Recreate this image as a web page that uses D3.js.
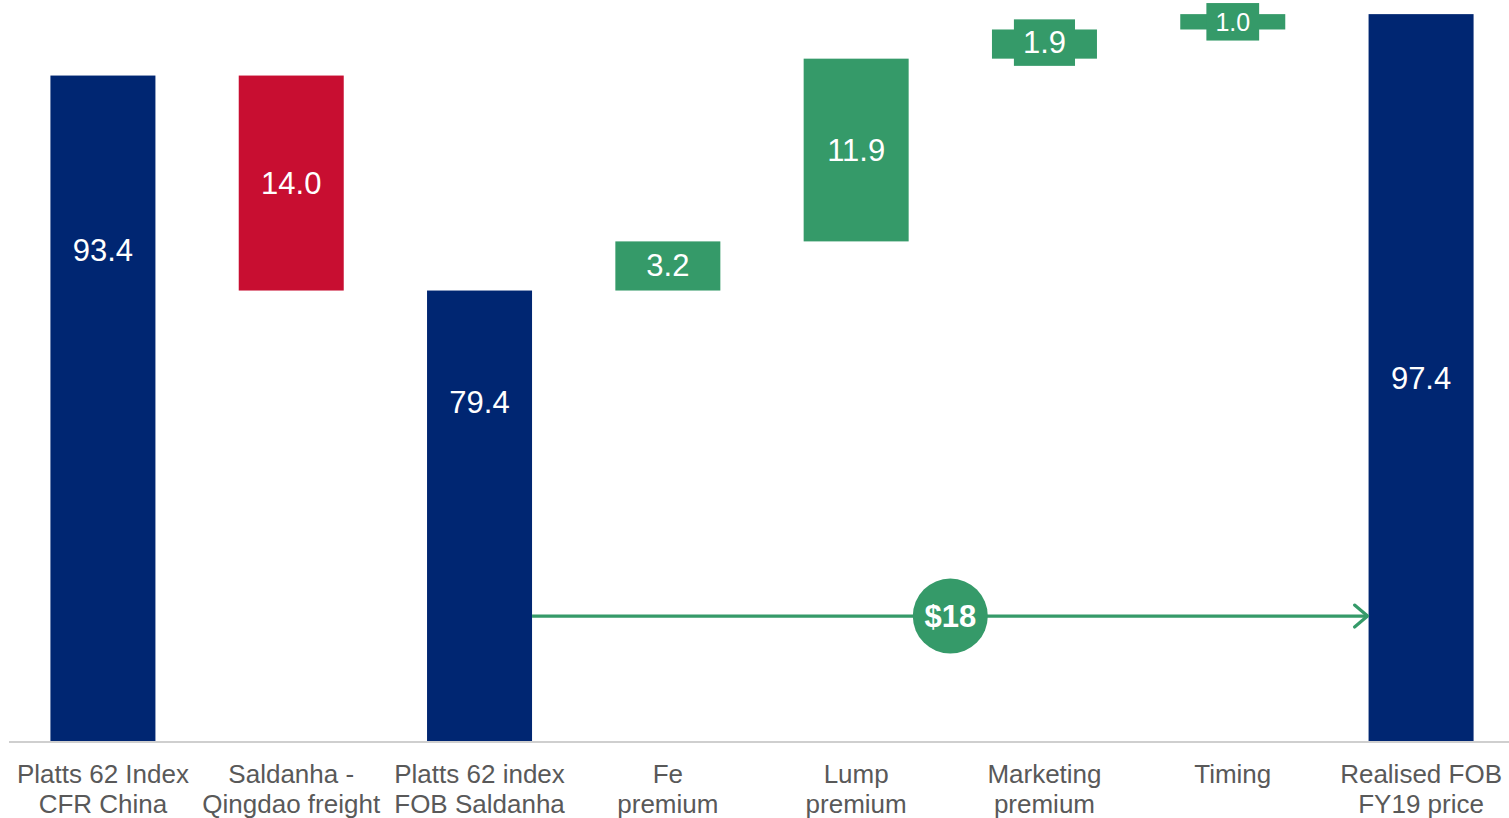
<!DOCTYPE html>
<html>
<head>
<meta charset="utf-8">
<script src="https://cdn.jsdelivr.net/npm/d3@7"></script>
<style>
  html, body { margin: 0; padding: 0; background: #ffffff; }
  svg { display: block; }
  text { font-family: Arial, "Liberation Sans", sans-serif; }
</style>
</head>
<body>
<svg id="chart" width="1509" height="818"></svg>
<script>
// Waterfall: CFR China index to realised FOB price (US$/t)
const categories = [
  ["Platts 62 Index", "CFR China"],
  ["Saldanha -", "Qingdao freight"],
  ["Platts 62 index", "FOB Saldanha"],
  ["Fe", "premium"],
  ["Lump", "premium"],
  ["Marketing", "premium"],
  ["Timing", ""],
  ["Realised FOB", "FY19 price"]
];
// kind: total bars stand on the axis, steps float on the running total
const kinds  = ["total", "down", "total", "up", "up", "up", "up", "total"];
const values = [93.4, 14.0, 79.4, 3.2, 11.9, 1.9, 1.0, 97.4];
// where the value label sits along each bar (0 = top, 1 = bottom)
const labelAlong = [0.263, 0.5, 0.248, 0.5, 0.5, 0.45, 0.5, 0.5];
const uplift = { from: 2, to: 7, label: "$18", level: 58.2 };

const colors = { total: "#002672", down: "#c80e31", up: "#359a69" };

const svg = d3.select("#chart");
const baseY = 742;

const x = d3.scaleBand()
  .domain(d3.range(categories.length))
  .range([9, 1515])
  .paddingInner(0.4424)
  .paddingOuter(0.22);

const y = d3.scaleLinear().domain([50, 98.32]).range([baseY, 0]);

// running totals -> [low, high] for each bar
let running = 0;
const bars = values.map((v, i) => {
  let lo, hi;
  if (kinds[i] === "total") { lo = y.domain()[0]; hi = v; running = v; }
  else if (kinds[i] === "down") { hi = running; lo = running - v; running = lo; }
  else { lo = running; hi = running + v; running = hi; }
  return { i, v, lo, hi, kind: kinds[i] };
});

svg.append("g").selectAll("rect")
  .data(bars).join("rect")
  .attr("x", d => x(d.i))
  .attr("width", x.bandwidth())
  .attr("y", d => y(d.hi))
  .attr("height", d => y(d.lo) - y(d.hi))
  .attr("fill", d => colors[d.kind]);

// value labels; labels too tall for their bar get a backing tab
const labels = svg.append("g");
bars.forEach(d => {
  const top = y(d.hi), bottom = y(d.lo);
  const cy = top + (bottom - top) * labelAlong[d.i];
  const cx = x(d.i) + x.bandwidth() / 2;
  const small = (bottom - top) < 40;
  const fs = d.v < 1.5 ? 25 : 31;
  const g = labels.append("g");
  const t = g.append("text")
    .attr("x", cx).attr("y", cy)
    .attr("text-anchor", "middle")
    .attr("dominant-baseline", "central")
    .attr("font-size", fs)
    .attr("fill", "#ffffff")
    .text(d.v.toFixed(1));
  if (small) {
    const w = t.node().getComputedTextLength() + 18;
    const h = fs * 1.5;
    g.insert("rect", "text")
      .attr("x", cx - w / 2).attr("y", cy - h / 2)
      .attr("width", w).attr("height", h)
      .attr("fill", colors[d.kind]);
  }
});

// axis baseline
svg.append("line")
  .attr("x1", 9).attr("x2", 1509)
  .attr("y1", baseY).attr("y2", baseY)
  .attr("stroke", "#cfcfcf").attr("stroke-width", 2);

// category labels
const cat = svg.append("g");
categories.forEach((lines, i) => {
  const t = cat.append("text")
    .attr("text-anchor", "middle")
    .attr("font-size", 26)
    .attr("fill", "#595959");
  lines.forEach((ln, k) => {
    t.append("tspan")
      .attr("x", x(i) + x.bandwidth() / 2)
      .attr("y", 783 + k * 30)
      .text(ln);
  });
});

// uplift arrow between the FOB index and the realised price
const ay = y(uplift.level);
const ax1 = x(uplift.from) + x.bandwidth();
const ax2 = x(uplift.to);
const green = colors.up;
svg.append("line")
  .attr("x1", ax1).attr("x2", ax2 - 1)
  .attr("y1", ay).attr("y2", ay)
  .attr("stroke", green).attr("stroke-width", 3.2);
svg.append("path")
  .attr("d", `M${ax2 - 14},${ay - 11} L${ax2 - 1},${ay} L${ax2 - 14},${ay + 11}`)
  .attr("fill", "none").attr("stroke", green)
  .attr("stroke-width", 3.2).attr("stroke-linecap", "round").attr("stroke-linejoin", "round");
const cx = (ax1 + ax2) / 2;
svg.append("circle")
  .attr("cx", cx).attr("cy", ay).attr("r", 37.5)
  .attr("fill", green);
svg.append("text")
  .attr("x", cx).attr("y", ay)
  .attr("text-anchor", "middle")
  .attr("dominant-baseline", "central")
  .attr("font-size", 31).attr("font-weight", "bold")
  .attr("fill", "#ffffff")
  .text(uplift.label);
</script>
</body>
</html>
